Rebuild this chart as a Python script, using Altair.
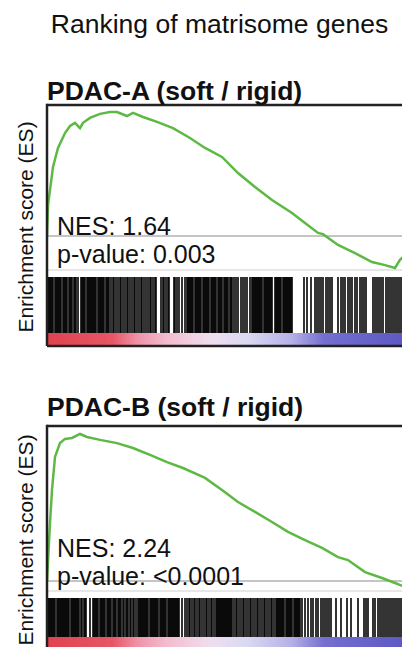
import altair as alt
import pandas as pd

FONT = "Liberation Sans"
X_MAX = 710          # last visible rank at the right edge of the picture

MAIN_TITLE = "Ranking of matrisome genes"
Y_TITLE = "Enrichment score (ES)"

# ---- Panel A: PDAC-A (soft / rigid) ----
A_title = "PDAC-A (soft / rigid)"
A_rank = [0, 2, 6, 12, 22, 36, 46, 56, 66, 72, 86, 106, 126, 140, 160, 172, 192, 220, 252, 286,
          316, 350, 382, 416, 450, 490, 516, 542, 552, 582, 616, 650, 676, 696, 706, 716, 726, 730]
A_es = [0.0, 0.100, 0.148, 0.223, 0.284, 0.332, 0.355, 0.365, 0.348, 0.365, 0.381, 0.394, 0.400,
        0.400, 0.387, 0.397, 0.384, 0.368, 0.348, 0.316, 0.284, 0.255, 0.203, 0.158, 0.116, 0.074,
        0.042, 0.010, 0.006, -0.029, -0.055, -0.084, -0.094, -0.103, -0.077, -0.061, -0.003, 0.0]
A_hits = [2, 4, 6, 8, 10, 12, 16, 18, 20, 22, 24, 26, 28, 32, 34, 36, 38, 40, 44, 46, 48, 50, 54, 56, 58,
          62, 68,
          70, 72, 74, 76, 80, 82, 84, 86, 88, 90, 92, 94, 96, 98, 102, 104, 106, 108, 110, 112, 114,
          118, 120, 122, 124,
          128, 132, 134, 138, 142, 146, 148, 152, 156, 160, 162, 166, 170, 174, 176, 180, 184,
          188, 190, 194, 198, 202, 206, 208, 212, 216, 218, 228, 232, 234, 238, 242, 244, 254, 256, 260,
          264, 270, 276,
          280, 282, 284, 286, 288, 290, 292, 296, 298, 300, 302, 304, 306, 308, 312, 314, 316, 318,
          320, 322, 324, 328, 330, 332, 334, 336, 338, 342, 344, 346, 348, 350, 354, 356, 358, 360,
          362, 366, 368, 370,
          374, 378, 382, 388, 392, 396, 400, 406, 410,
          412, 414, 416, 418, 420, 422, 424, 426, 428, 430, 434, 436, 438, 440, 442, 444, 446, 448, 450,
          456, 458, 460, 462, 464, 466, 468, 472, 474, 476, 478, 480, 482, 484, 486, 488, 490,
          514, 520, 528,
          536, 540, 544, 548, 552, 558, 562, 566, 570,
          582, 588, 592, 596, 602, 606, 610, 616, 620, 626, 630, 634, 638,
          652, 656, 660, 664, 668, 672, 678, 682, 686, 690, 694, 698, 702, 706, 710, 714, 718, 722, 726]
# ES scale placing panel A's zero line and spread in the figure
A_domain = [-1.3258, 0.7355]
A_labels = ["NES: 1.64", "p-value: 0.003"]

# ---- Panel B: PDAC-B (soft / rigid) ----
B_title = "PDAC-B (soft / rigid)"
B_rank = [0, 6, 10, 16, 26, 36, 50, 66, 80, 106, 140, 172, 206, 240, 272, 316, 350, 382, 416, 450,
          482, 516, 550, 582, 602, 636, 670, 696, 716, 726, 730]
B_es = [0.0, 0.235, 0.369, 0.503, 0.559, 0.576, 0.580, 0.596, 0.584, 0.572, 0.559, 0.539, 0.511,
        0.482, 0.458, 0.418, 0.369, 0.320, 0.280, 0.239, 0.199, 0.166, 0.134, 0.097, 0.085, 0.036,
        0.012, -0.008, -0.024, -0.028, 0.0]
B_hits = [2, 4, 6, 8, 10, 12, 14, 16, 20, 22, 24, 26, 28, 30, 32, 34, 36, 38, 40, 42, 44, 48, 50, 52,
          54, 56, 58, 60, 62, 64, 68, 70, 74, 76, 78,
          86,
          92, 94, 96, 98, 100, 102, 106, 108, 110, 112, 114, 116, 120, 122, 124, 126, 128, 132, 134,
          136, 138, 142, 144, 146, 148, 152, 154, 158, 160, 162, 166, 168, 172, 174, 178, 182, 184,
          186, 188, 190, 192, 194, 196, 198, 200, 202, 206, 208, 210, 212, 214, 216, 218, 220, 222,
          226, 228, 230, 232, 234, 236, 238, 242, 244, 246, 248, 250, 252, 254, 256, 258, 260, 262, 264,
          270, 276,
          280, 284, 286, 290, 294, 296, 300, 304, 306, 310, 314, 318, 320, 324, 328, 330, 334, 338,
          340, 342, 344, 346, 348, 350, 352, 354, 356, 358, 360, 362, 364, 366, 368, 370,
          374, 378, 380, 384, 388, 392, 394, 398, 402, 406, 408, 412, 416, 420, 422, 426, 430, 434,
          436, 440, 444, 448, 450, 454, 458,
          460, 462, 464, 466, 468, 470, 472, 474, 478, 480, 482, 484, 486, 488, 490, 494, 496, 498,
          500, 502, 504, 506,
          510, 516, 522, 528, 532, 538, 542,
          548, 552, 556, 560, 564, 568,
          578, 588, 600, 608,
          622,
          634, 638, 642, 652, 656, 662, 666, 670, 674, 678, 682, 686, 690, 694, 698, 702, 706, 710,
          714, 718, 722, 726]
B_domain = [-0.2675, 2.3227]
B_labels = ["NES: 2.24", "p-value: <0.0001"]

# ranked-list colour bar: rank positions and colour stops along the ranking
BAR_RANKS = list(range(0, X_MAX + 1, 2))
BAR_STOPS = [0, 131, 182, 241, 328, 401, 489, 555, 730]
BAR_COLORS = ["#E03A48", "#E5505F", "#EE8FA5", "#F3BACC", "#EEDDEE", "#D9D7F2", "#B2AEE6",
              "#6E69CD", "#5550C0"]

GREEN = "#5DB944"
INK = "#111111"
W, H = 355, 639

XS = alt.Scale(domain=[0, X_MAX], nice=False, zero=False)
CS = alt.Scale(domain=BAR_STOPS, range=BAR_COLORS, interpolate="rgb")


def txt(label, size, weight, x, y, align="left", angle=0):
    return alt.Chart(pd.DataFrame({"label": [label]})).mark_text(
        align=align, baseline="alphabetic", fontSize=size, font=FONT, fontWeight=weight,
        color=INK, angle=angle).encode(x=alt.value(x), y=alt.value(y), text="label:N")


def hline(y, color, width, x1=0, x2=W):
    return alt.Chart(pd.DataFrame({"k": [0]})).mark_rule(color=color, strokeWidth=width).encode(
        x=alt.value(x1), x2=alt.value(x2), y=alt.value(y))


def vline(x, y1, y2, color, width):
    return alt.Chart(pd.DataFrame({"k": [0]})).mark_rule(color=color, strokeWidth=width).encode(
        x=alt.value(x), y=alt.value(y1), y2=alt.value(y2))


def panel_layers(field, title, rank, es, hits, labels, ydom, top, title_y,
                 sep_y, hit_y, bar_y, bottom, text_y, ylab_y):
    ys = alt.Scale(domain=ydom, nice=False, zero=False)
    curve_df = pd.DataFrame({"rank": rank, field: es})
    zero_df = pd.DataFrame({field: [0.0]})
    hits_df = pd.DataFrame({"rank": hits})
    bar_df = pd.DataFrame({"rank": BAR_RANKS})

    line = alt.Chart(curve_df).mark_line(color=GREEN, strokeWidth=2.5, clip=True).encode(
        x=alt.X("rank:Q", scale=XS, axis=None),
        y=alt.Y(f"{field}:Q", scale=ys, axis=None))
    zero = alt.Chart(zero_df).mark_rule(color="#8a8a8a", strokeWidth=1).encode(
        y=alt.Y(f"{field}:Q", scale=ys, axis=None))
    ticks = alt.Chart(hits_df).mark_rule(color="black", strokeWidth=1.6, clip=True).encode(
        x=alt.X("rank:Q", scale=XS, axis=None), y=alt.value(hit_y[0]), y2=alt.value(hit_y[1]))
    cbar = alt.Chart(bar_df).mark_rule(strokeWidth=1.6, clip=True).encode(
        x=alt.X("rank:Q", scale=XS, axis=None), y=alt.value(bar_y[0]), y2=alt.value(bar_y[1]),
        color=alt.Color("rank:Q", scale=CS, legend=None))
    layers = [cbar, ticks, hline(sep_y, "#cfcfcf", 1), zero, line]
    layers += [hline(top, "#222", 2.5), vline(0, top - 1.25, bottom, "#222", 2.5)]
    if bottom < H:
        layers.append(hline(bottom, "#222", 2.5))
    layers += [txt(labels[0], 25, "normal", 10, text_y[0]),
               txt(labels[1], 25, "normal", 10, text_y[1]),
               txt(title, 26.5, "bold", 0, title_y),
               txt(Y_TITLE, 21, "normal", -14, ylab_y, align="center", angle=270)]
    return layers


layers = [txt(MAIN_TITLE, 26.5, "normal", 172.5, 25, align="center")]
layers += panel_layers("esA", A_title, A_rank, A_es, A_hits, A_labels, A_domain,
                       top=97, title_y=92, sep_y=262, hit_y=(269, 325),
                       bar_y=(325, 338), bottom=338, text_y=(227, 255), ylab_y=219)
layers += panel_layers("esB", B_title, B_rank, B_es, B_hits, B_labels, B_domain,
                       top=418, title_y=408, sep_y=583, hit_y=(590, 629),
                       bar_y=(629, 639), bottom=H + 5, text_y=(549, 577), ylab_y=532)

chart = alt.layer(*layers).resolve_scale(y="independent").properties(
    width=W, height=H,
    autosize=alt.AutoSizeParams(type="none"),
    padding={"left": 39, "top": 0, "right": 0, "bottom": 0},
    background="white",
).configure_view(strokeWidth=0)

chart.save("out.html", embed_options={"renderer": "svg", "actions": False})
